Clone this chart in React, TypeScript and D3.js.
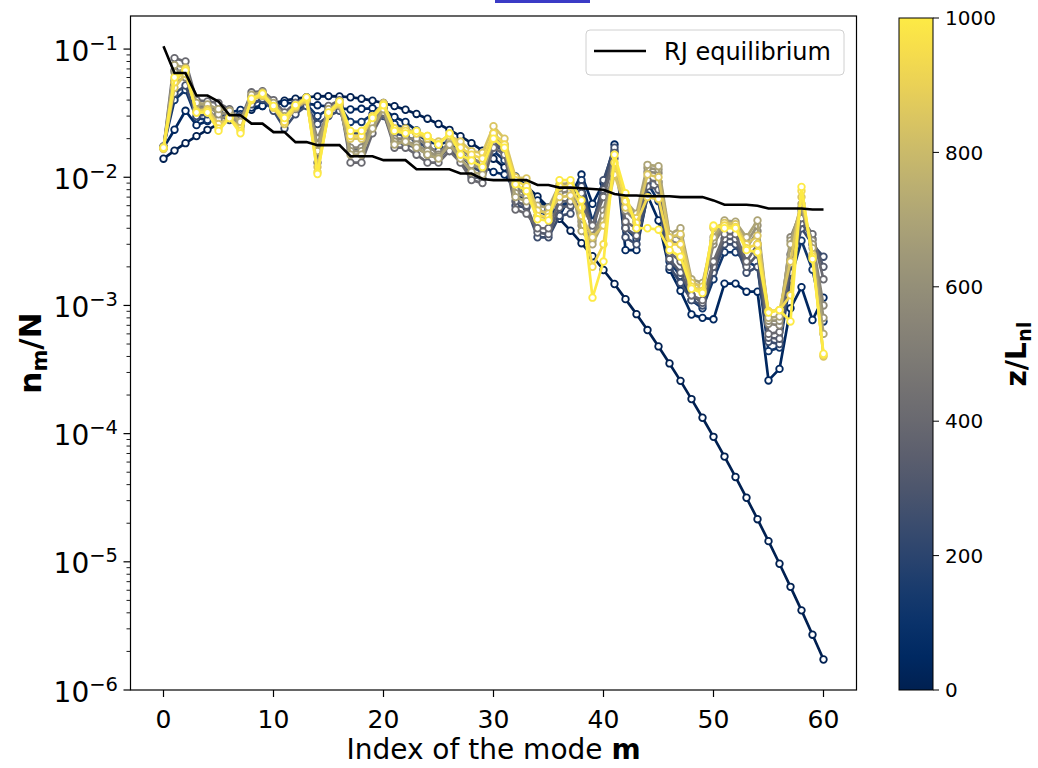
import React from 'react';
import * as d3 from 'd3';

// Mode indices m
const modes: number[] = d3.range(0, 61);

// z/L_nl of each plotted distribution
const zLevels = [0, 40, 120, 250, 330, 400, 550, 620, 700, 850, 930, 1000];

// n_m/N at z = 0
const nZ0 = [
  0.01396, 0.01614, 0.01845, 0.02094, 0.02344, 0.02606, 0.02864, 0.03119, 0.03363, 0.03589,
  0.03793, 0.03963, 0.04102, 0.04207, 0.04276, 0.04295, 0.04276, 0.04207, 0.04102, 0.03963,
  0.03793, 0.03589, 0.03363, 0.03119, 0.02864, 0.02606, 0.02344, 0.02094, 0.01845, 0.01614,
  0.01396, 0.01195, 0.01014, 0.00851, 0.00708, 0.00582, 0.00474, 0.00383, 0.00306, 0.00242,
  0.00189, 0.00147, 0.00112, 0.000855, 0.000643, 0.000479, 0.000353, 0.000258, 0.000186, 0.000133,
  0.0000944, 0.0000662, 0.0000459, 0.0000316, 0.0000215, 0.0000145, 0.00000966, 0.00000638, 0.00000418, 0.0000027, 0.00000173,
];
// z = 40
const nZ40 = [
  0.017, 0.0235, 0.033, 0.0255, 0.0275, 0.03, 0.032, 0.0335, 0.035, 0.036,
  0.037, 0.0378, 0.038, 0.0375, 0.0365, 0.0355, 0.0345, 0.0338, 0.0342, 0.0345,
  0.034, 0.0295, 0.027, 0.0232, 0.02, 0.0177, 0.016, 0.0144, 0.0136, 0.0122,
  0.011, 0.0105, 0.008, 0.0062, 0.0066, 0.0056, 0.005, 0.0072, 0.0105, 0.0062,
  0.009, 0.018, 0.0027, 0.0027, 0.0072, 0.0046, 0.0019, 0.0013, 0.00085, 0.0008,
  0.00078, 0.00148, 0.00148, 0.00128, 0.00128, 0.00026, 0.00032, 0.00095, 0.00139, 0.00077, 0.00115,
];
// z = 120
const nZ120 = [
  0.0172, 0.04, 0.048, 0.029, 0.028, 0.032, 0.03, 0.031, 0.038, 0.04,
  0.034, 0.03, 0.033, 0.037, 0.03, 0.034, 0.036, 0.027, 0.027, 0.031,
  0.034, 0.026, 0.024, 0.022, 0.019, 0.018, 0.019, 0.016, 0.0125, 0.012,
  0.016, 0.0136, 0.009, 0.0075, 0.0055, 0.005, 0.006, 0.0065, 0.0095, 0.0045,
  0.008, 0.016, 0.004, 0.0033, 0.009, 0.0065, 0.0022, 0.0017, 0.0011, 0.00095,
  0.0016, 0.0026, 0.0026, 0.0022, 0.002, 0.00044, 0.00047, 0.0016, 0.0032, 0.0019, 0.00075,
];
// z = 250
const nZ250 = [
  0.0172, 0.045, 0.052, 0.03, 0.031, 0.03, 0.028, 0.03, 0.037, 0.041,
  0.033, 0.024, 0.031, 0.036, 0.026, 0.03, 0.033, 0.022, 0.022, 0.026,
  0.03, 0.022, 0.021, 0.019, 0.017, 0.016, 0.017, 0.015, 0.012, 0.011,
  0.018, 0.016, 0.006, 0.0058, 0.0034, 0.0034, 0.005, 0.0052, 0.0085, 0.004,
  0.0095, 0.017, 0.0034, 0.003, 0.007, 0.0068, 0.002, 0.0015, 0.0011, 0.001,
  0.0018, 0.003, 0.003, 0.0018, 0.002, 0.00052, 0.0005, 0.0018, 0.004, 0.003, 0.0024,
];
// z = 330
const nZ330 = [
  0.017, 0.068, 0.066, 0.036, 0.035, 0.033, 0.03, 0.026, 0.043, 0.045,
  0.037, 0.028, 0.035, 0.04, 0.018, 0.032, 0.036, 0.016, 0.017, 0.025,
  0.031, 0.019, 0.018, 0.017, 0.015, 0.014, 0.017, 0.014, 0.01, 0.0098,
  0.019, 0.016, 0.0065, 0.006, 0.0037, 0.0036, 0.0058, 0.006, 0.0075, 0.0038,
  0.008, 0.0155, 0.004, 0.0035, 0.0085, 0.008, 0.0023, 0.0018, 0.0012, 0.00105,
  0.002, 0.0033, 0.0033, 0.002, 0.0025, 0.00056, 0.00055, 0.0021, 0.0044, 0.0033, 0.002,
];
// z = 400
const nZ400 = [
  0.0168, 0.085, 0.08, 0.04, 0.039, 0.038, 0.034, 0.028, 0.046, 0.047,
  0.04, 0.032, 0.038, 0.042, 0.013, 0.036, 0.04, 0.013, 0.013, 0.022,
  0.032, 0.017, 0.017, 0.015, 0.013, 0.013, 0.016, 0.013, 0.0095, 0.009,
  0.017, 0.015, 0.0056, 0.0052, 0.004, 0.004, 0.0065, 0.0065, 0.006, 0.0042,
  0.007, 0.014, 0.0045, 0.004, 0.0095, 0.0092, 0.0026, 0.0022, 0.0012, 0.0011,
  0.0022, 0.0036, 0.0036, 0.0022, 0.003, 0.0006, 0.00062, 0.0025, 0.0048, 0.0036, 0.0016,
];
// z = 550
const nZ550 = [
  0.0175, 0.055, 0.06, 0.035, 0.034, 0.028, 0.031, 0.025, 0.042, 0.044,
  0.036, 0.027, 0.034, 0.039, 0.02, 0.033, 0.036, 0.017, 0.017, 0.028,
  0.036, 0.02, 0.02, 0.02, 0.018, 0.015, 0.019, 0.017, 0.014, 0.013,
  0.022, 0.018, 0.008, 0.0075, 0.005, 0.0048, 0.0075, 0.0078, 0.0045, 0.0035,
  0.0055, 0.012, 0.0055, 0.0045, 0.011, 0.0108, 0.0032, 0.003, 0.0014, 0.0013,
  0.003, 0.0042, 0.0041, 0.0028, 0.0038, 0.00072, 0.0007, 0.0034, 0.0055, 0.0032, 0.001,
];
// z = 620
const nZ620 = [
  0.0172, 0.066, 0.07, 0.037, 0.036, 0.031, 0.032, 0.026, 0.043, 0.045,
  0.037, 0.028, 0.035, 0.04, 0.018, 0.033, 0.037, 0.016, 0.016, 0.026,
  0.035, 0.019, 0.019, 0.018, 0.016, 0.0145, 0.018, 0.015, 0.0125, 0.0118,
  0.021, 0.017, 0.0075, 0.007, 0.0055, 0.0053, 0.0082, 0.0085, 0.0042, 0.0032,
  0.005, 0.0115, 0.006, 0.0048, 0.0118, 0.0115, 0.0034, 0.0035, 0.0015, 0.0014,
  0.0032, 0.0044, 0.0043, 0.0031, 0.0042, 0.00076, 0.00076, 0.0032, 0.0058, 0.003, 0.0008,
];
// z = 700
const nZ700 = [
  0.017, 0.075, 0.072, 0.038, 0.037, 0.034, 0.033, 0.027, 0.044, 0.046,
  0.038, 0.03, 0.036, 0.041, 0.016, 0.034, 0.038, 0.015, 0.015, 0.024,
  0.034, 0.018, 0.019, 0.017, 0.015, 0.014, 0.018, 0.014, 0.011, 0.0105,
  0.02, 0.017, 0.007, 0.0065, 0.006, 0.0058, 0.0088, 0.009, 0.0038, 0.003,
  0.0045, 0.011, 0.0065, 0.0052, 0.0125, 0.0122, 0.0036, 0.004, 0.0016, 0.0015,
  0.0034, 0.0046, 0.0045, 0.0034, 0.0046, 0.0008, 0.00082, 0.003, 0.0062, 0.0028, 0.0006,
];
// z = 850
const nZ850 = [
  0.0166, 0.05, 0.064, 0.033, 0.034, 0.026, 0.029, 0.024, 0.04, 0.043,
  0.035, 0.026, 0.035, 0.04, 0.012, 0.031, 0.037, 0.02, 0.02, 0.03,
  0.038, 0.024, 0.024, 0.022, 0.02, 0.019, 0.021, 0.019, 0.016, 0.0155,
  0.025, 0.02, 0.01, 0.0098, 0.0055, 0.0052, 0.007, 0.0072, 0.005, 0.0034,
  0.0042, 0.0105, 0.0058, 0.0048, 0.0105, 0.01, 0.0034, 0.0036, 0.0015, 0.0014,
  0.004, 0.0044, 0.0043, 0.003, 0.0035, 0.0009, 0.00092, 0.0022, 0.007, 0.0025, 0.0004,
];
// z = 930
const nZ930 = [
  0.0168, 0.055, 0.07, 0.032, 0.033, 0.024, 0.029, 0.023, 0.04, 0.044,
  0.035, 0.027, 0.036, 0.041, 0.011, 0.031, 0.038, 0.021, 0.021, 0.03,
  0.037, 0.024, 0.023, 0.022, 0.021, 0.018, 0.022, 0.017, 0.015, 0.014,
  0.022, 0.018, 0.0095, 0.0085, 0.005, 0.0049, 0.0085, 0.0085, 0.0058, 0.002,
  0.003, 0.013, 0.0065, 0.0044, 0.007, 0.0068, 0.003, 0.003, 0.0014, 0.0013,
  0.0041, 0.0042, 0.0041, 0.0028, 0.003, 0.0009, 0.00092, 0.0012, 0.0078, 0.0024, 0.00041,
];
// z = 1000
const nZ1000 = [
  0.017, 0.06, 0.068, 0.032, 0.032, 0.023, 0.029, 0.022, 0.041, 0.045,
  0.036, 0.029, 0.0365, 0.042, 0.0106, 0.032, 0.039, 0.023, 0.023, 0.029,
  0.0365, 0.023, 0.022, 0.023, 0.021, 0.018, 0.022, 0.015, 0.0135, 0.012,
  0.02, 0.017, 0.0088, 0.0078, 0.0047, 0.0046, 0.0095, 0.0095, 0.0066, 0.00115,
  0.0022, 0.015, 0.0075, 0.004, 0.004, 0.0039, 0.0027, 0.0024, 0.00135, 0.00125,
  0.0042, 0.004, 0.004, 0.0027, 0.0026, 0.00088, 0.00092, 0.00075, 0.0084, 0.0023, 0.00042,
];
// Rayleigh-Jeans equilibrium
const rjEquilibrium = [
  0.105, 0.065, 0.065, 0.0434, 0.0434, 0.039, 0.0305, 0.0305, 0.0262, 0.0262,
  0.0225, 0.0225, 0.0188, 0.0188, 0.0178, 0.0178, 0.0178, 0.0146, 0.0146, 0.0146,
  0.0136, 0.0136, 0.0136, 0.01155, 0.01155, 0.01155, 0.01155, 0.0107, 0.0107, 0.0097,
  0.0095, 0.0095, 0.0095, 0.0095, 0.0087, 0.0087, 0.0083, 0.0083, 0.0082, 0.0081,
  0.008, 0.0074, 0.0072, 0.0072, 0.0071, 0.0071, 0.0071, 0.007, 0.007, 0.007,
  0.0066, 0.0061, 0.0061, 0.0061, 0.006, 0.0057, 0.0057, 0.0057, 0.0057, 0.0056, 0.0056,
];

const seriesValues = [nZ0, nZ40, nZ120, nZ250, nZ330, nZ400, nZ550, nZ620, nZ700, nZ850, nZ930, nZ1000];

const xTicks = [0, 10, 20, 30, 40, 50, 60];
const yTickExps = [-1, -2, -3, -4, -5, -6];
const cbTicks = [0, 200, 400, 600, 800, 1000];

const FONT = 'DejaVu Sans, sans-serif';

export default function App() {
  const W = 1038;
  const H = 768;
  const L = 130.5, R = 856.5, T = 16, B = 690;
  const x = d3.scaleLinear().domain([-3, 63]).range([L, R]);
  const y = d3.scaleLog().domain([1e-6, Math.pow(10, -0.742)]).range([B, T]);
  const cbX0 = 899, cbX1 = 933, cbT = 18, cbB = 690;
  const cb = d3.scaleLinear().domain([0, 1000]).range([cbB, cbT]);
  const color = (z: number) => d3.interpolateCividis(z / 1000);

  const line = d3
    .line<number>()
    .x((_, i) => x(modes[i]))
    .y((d) => y(d));

  const minorTicks: number[] = [];
  for (let k = -6; k <= -1; k++) {
    for (let j = 2; j <= 9; j++) {
      const v = j * Math.pow(10, k);
      if (v < y.domain()[1]) minorTicks.push(v);
    }
  }
  const gradStops = d3.range(0, 1.0001, 0.05);

  return (
    <div style={{ position: 'absolute', left: 0, top: 0 }}>
      <svg width={W} height={H} style={{ display: 'block', background: '#fff' }} fontFamily={FONT}>
        <defs>
          <linearGradient id="cividis" x1="0" y1="1" x2="0" y2="0">
            {gradStops.map((t) => (
              <stop key={t} offset={t} stopColor={d3.interpolateCividis(t)} />
            ))}
          </linearGradient>
          <clipPath id="plotclip">
            <rect x={L} y={T} width={R - L} height={B - T} />
          </clipPath>
        </defs>
        <rect x={495} y={0} width={95} height={3} fill="#3b3bc6" />

        <g clipPath="url(#plotclip)">
          {seriesValues.map((vals, si) => (
            <g key={si}>
              <path d={line(vals) || ''} fill="none" stroke={color(zLevels[si])} strokeWidth={2.7} strokeLinejoin="round" />
              {vals.map((v, i) => (
                <circle key={i} cx={x(modes[i])} cy={y(v)} r={3.3} fill="#fff" stroke={color(zLevels[si])} strokeWidth={1.8} />
              ))}
            </g>
          ))}
          <path d={line(rjEquilibrium) || ''} fill="none" stroke="#000" strokeWidth={2.6} />
        </g>

        {/* axes frame */}
        <rect x={L} y={T} width={R - L} height={B - T} fill="none" stroke="#000" strokeWidth={1.2} />

        {/* x ticks */}
        {xTicks.map((t) => (
          <g key={t}>
            <line x1={x(t)} x2={x(t)} y1={B} y2={B + 7} stroke="#000" strokeWidth={1.2} />
            <text x={x(t)} y={728} fontSize={25} textAnchor="middle">{t}</text>
          </g>
        ))}
        {/* y ticks */}
        {yTickExps.map((e) => (
          <g key={e}>
            <line x1={L - 7} x2={L} y1={y(Math.pow(10, e))} y2={y(Math.pow(10, e))} stroke="#000" strokeWidth={1.2} />
            <text x={118} y={y(Math.pow(10, e)) + 11.5} fontSize={28} textAnchor="end">
              10
              <tspan dy={-11} fontSize={19.5}>{'\u2212' + Math.abs(e)}</tspan>
            </text>
          </g>
        ))}
        {minorTicks.map((v, i) => (
          <line key={i} x1={L - 4} x2={L} y1={y(v)} y2={y(v)} stroke="#000" strokeWidth={0.9} />
        ))}

        {/* axis labels */}
        <text x={(L + R) / 2} y={759} fontSize={28} textAnchor="middle">
          Index of the mode <tspan fontWeight="bold">m</tspan>
        </text>
        <text transform={`translate(41,${(T + B) / 2}) rotate(-90)`} fontSize={31} fontWeight="bold" textAnchor="middle">
          n<tspan dy={6} fontSize={21}>m</tspan><tspan dy={-6}>/N</tspan>
        </text>

        {/* legend */}
        <rect x={586} y={30} width={258} height={45} rx={4} fill="#fff" fillOpacity={0.8} stroke="#d0d0d0" strokeWidth={1} />
        <line x1={594} x2={646} y1={51} y2={51} stroke="#000" strokeWidth={2.5} />
        <text x={664} y={59.5} fontSize={24}>RJ equilibrium</text>

        {/* colorbar */}
        <rect x={cbX0} y={cbT} width={cbX1 - cbX0} height={cbB - cbT} fill="url(#cividis)" stroke="#000" strokeWidth={1} />
        {cbTicks.map((t) => (
          <g key={t}>
            <line x1={cbX1} x2={cbX1 + 6} y1={cb(t)} y2={cb(t)} stroke="#000" strokeWidth={1} />
            <text x={945} y={cb(t)} dy="0.36em" fontSize={20}>{t}</text>
          </g>
        ))}
        <text transform={`translate(1026,${(cbT + cbB) / 2}) rotate(-90)`} fontSize={28} fontWeight="bold" textAnchor="middle">
          z/L<tspan dy={5} fontSize={19.5}>nl</tspan>
        </text>
      </svg>
    </div>
  );
}
